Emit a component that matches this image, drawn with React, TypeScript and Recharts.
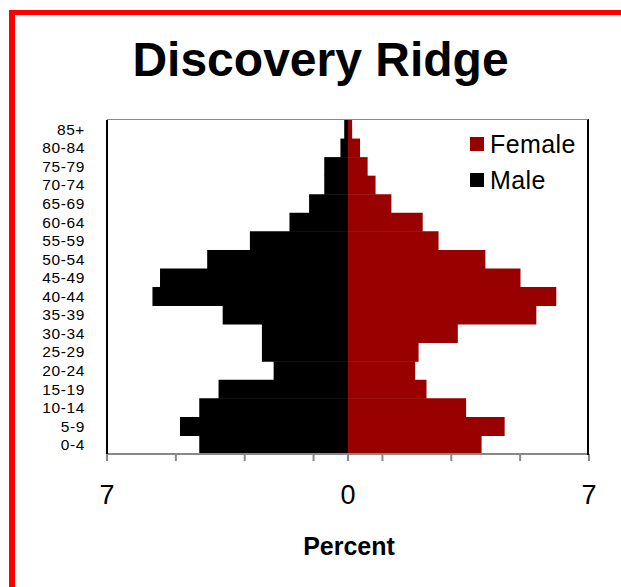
import React from 'react';
import { BarChart, Bar, XAxis, YAxis, Legend } from 'recharts';

const ageGroups = ['0-4', '5-9', '10-14', '15-19', '20-24', '25-29', '30-34', '35-39', '40-44', '45-49', '50-54', '55-59', '60-64', '65-69', '70-74', '75-79', '80-84', '85+'];
const malePct = [4.32, 4.88, 4.32, 3.76, 2.16, 2.5, 2.5, 3.64, 5.68, 5.46, 4.09, 2.85, 1.7, 1.13, 0.69, 0.69, 0.22, 0.11];
const femalePct = [3.88, 4.55, 3.43, 2.28, 1.95, 2.05, 3.19, 5.47, 6.05, 5.01, 3.99, 2.63, 2.17, 1.26, 0.8, 0.57, 0.35, 0.12];
const xTicks = [-7, -5, -3, -1, 0, 1, 3, 5, 7];
const labelledTicks = [-7, 0, 7];

const FONT = '"Liberation Sans", Arial, sans-serif';

const data = ageGroups.map((age, i) => ({ age, male: -malePct[i], female: femalePct[i] }));

const XTick = (props: any) => {
  const { x, y, payload } = props;
  if (!labelledTicks.includes(payload.value)) return null;
  return (
    <text x={x} y={y + 43} textAnchor="middle" fontSize={27} fontFamily={FONT} fill="#000">
      {Math.abs(payload.value)}
    </text>
  );
};

const legendItems = [
  { name: 'Female', color: '#990000' },
  { name: 'Male', color: '#000000' },
];

const LegendBox = () => (
  <div style={{ fontFamily: FONT }}>
    {legendItems.map((it) => (
      <div key={it.name} style={{ height: 36, display: 'flex', alignItems: 'flex-start' }}>
        <div style={{ width: 14, height: 14, marginTop: 11, background: it.color }} />
        <span style={{ marginLeft: 6, fontSize: 25, lineHeight: '36px', color: '#000', letterSpacing: 0.4 }}>{it.name}</span>
      </div>
    ))}
  </div>
);

export default function App() {
  return (
    <div style={{ position: 'absolute', left: 0, top: 0, width: 621, height: 587, overflow: 'hidden', background: '#fff' }}>
      {/* red frame */}
      <div style={{ position: 'absolute', left: 9, top: 10, width: 700, height: 700, borderTop: '5px solid #ff0000', borderLeft: '6px solid #ff0000' }} />
      <div style={{ position: 'absolute', left: 0, top: 36, width: 641, textAlign: 'center', fontFamily: FONT, fontWeight: 'bold', fontSize: 48, lineHeight: '48px', color: '#000' }}>
        Discovery Ridge
      </div>
      <div style={{ position: 'absolute', left: 0, top: 0 }}>
        <BarChart
          width={621}
          height={587}
          data={data}
          layout="vertical"
          stackOffset="sign"
          barCategoryGap={0}
          margin={{ top: 120, right: 32, bottom: 73, left: 7 }}
        >
          <XAxis
            type="number"
            domain={[-7, 7]}
            ticks={xTicks}
            allowDataOverflow
            height={60}
            axisLine={{ stroke: '#888', strokeWidth: 2 }}
            tickLine={{ stroke: '#888', strokeWidth: 2 }}
            tickSize={7}
            tickMargin={0}
            tick={<XTick />}
            interval={0}
          />
          <YAxis
            type="category"
            dataKey="age"
            reversed
            width={100}
            interval={0}
            axisLine={{ stroke: '#000', strokeWidth: 2 }}
            tickLine={false}
            tickSize={0}
            tickMargin={22}
            tick={{ fontSize: 15.5, fontFamily: FONT, fill: '#000', letterSpacing: 0.6 }}
          />
          <Legend layout="vertical" align="center" verticalAlign="middle" content={<LegendBox />} wrapperStyle={{ top: 126, left: 470, width: 'auto' }} />
          <Bar dataKey="female" name="Female" stackId="pop" fill="#990000" isAnimationActive={false} />
          <Bar dataKey="male" name="Male" stackId="pop" fill="#000000" isAnimationActive={false} />
        </BarChart>
      </div>
      {/* plot frame */}
      <div style={{ position: 'absolute', left: 107, top: 119, width: 480, height: 335, borderTop: '1.5px solid #888', borderRight: '2px solid #000', pointerEvents: 'none' }} />
      <div style={{ position: 'absolute', left: 0, top: 534, width: 698, textAlign: 'center', fontFamily: FONT, fontWeight: 'bold', fontSize: 25, lineHeight: '24px', color: '#000' }}>
        Percent
      </div>
    </div>
  );
}
